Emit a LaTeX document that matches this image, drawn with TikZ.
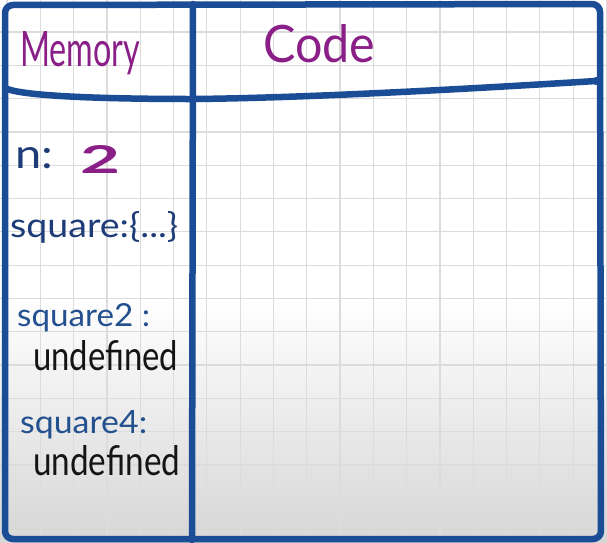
\documentclass[tikz,border=0pt]{standalone}
\usepackage{fontspec}
\setmainfont{Lato}
\usepackage{graphicx}
\definecolor{frameblue}{HTML}{1B4C96}
\definecolor{penpurple}{HTML}{8A1F88}
\definecolor{penblue}{HTML}{23508F}
\definecolor{pennavy}{HTML}{1E3C78}
\definecolor{penblack}{HTML}{141414}
\definecolor{gridc}{HTML}{DCDCDC}
\newcommand{\fitwh}[3]{\resizebox{#1pt}{#2pt}{#3}}
\tikzset{
  frame/.style={draw=frameblue, line width=6.5pt, line cap=round, line join=round},
  gridline/.style={draw=gridc, line width=1.2pt},
  txt/.style={inner sep=0pt, anchor=base west, font=\fontsize{30}{34}\selectfont},
}
\begin{document}
\begin{tikzpicture}[x=1pt,y=-1pt]
\useasboundingbox (0,0) rectangle (607,542);
\fill[white] (0,0) rectangle (607,300);
\shade[top color=white, bottom color=black!16] (0,299) rectangle (607,542);
\foreach \i in {0,...,18} \draw[gridline] ({7+33.3*\i},0) -- ++(0,542);
\foreach \j in {0,...,15} \draw[gridline] (0,{32+33.3*\j}) -- ++(607,0);
% frame
\draw[frame, rounded corners=8] (5,539) -- (5,5) -- (600,4) -- (601,539) -- cycle;
\coordinate (dtop) at (193,4);
\coordinate (dbot) at (192,540);
\draw[frame] (dtop) -- (dbot);
\coordinate (hl) at (5,88);
\coordinate (hm) at (193,99);
\coordinate (hr) at (596,81);
\draw[frame] (hl) .. controls (20,96) and (100,99) .. (hm) .. controls (300,98) and (450,90) .. (hr);
\fill[frameblue] (hr) circle (4);
% texts
\node[txt, text=penpurple] (mem) at (20,66) {\fitwh{120}{35}{Memory}};
\node[txt, text=penpurple] (code) at (263,62) {\fitwh{112}{38}{Code}};
\node[txt, text=pennavy] (n) at (15,168) {\fitwh{38}{21}{n:}};
\node[txt, text=penpurple] (two) at (80,173) {\fitwh{40}{28}{\bfseries 2}};
\node[txt, text=pennavy] (sq) at (10,237) {\fitwh{168}{26}{square:\{...\}}};
\node[txt, text=penblue] (sq2) at (17,326) {\fitwh{133}{23}{square2 :}};
\node[txt, text=penblack] (u1) at (33,370) {\fitwh{145}{30}{undefined}};
\node[txt, text=penblue] (sq4) at (20,433) {\fitwh{127}{23}{square4:}};
\node[txt, text=penblack] (u2) at (33,475) {\fitwh{147}{30}{undefined}};
\end{tikzpicture}
\end{document}
